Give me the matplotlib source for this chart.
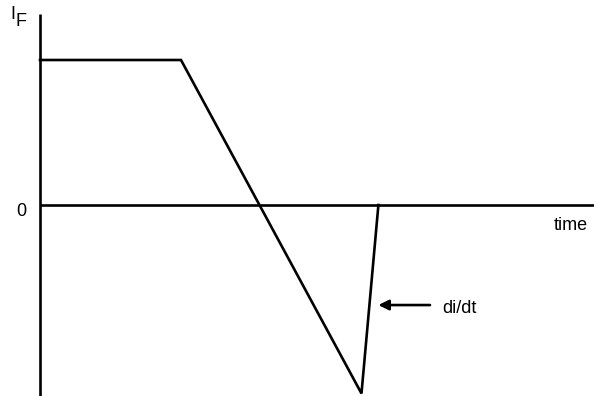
import matplotlib
matplotlib.use("Agg")
import matplotlib.pyplot as plt

plt.rcParams["font.family"] = ["Liberation Sans", "DejaVu Sans"]

# waveform corners (time in plateau-lengths, current in units of I_F)
time = [0.0, 1.0, 2.28, 2.40]
current = [1.0, 1.0, -1.30, 0.0]

# axes extents
t_max = 3.93
i_top, i_bottom = 1.32, -1.32

# di/dt marker
arrow_y = -0.69
arrow_tip, arrow_tail = 2.40, 2.766

fig = plt.figure(figsize=(5.94, 3.96), dpi=100)
ax = fig.add_axes([0, 0, 1, 1])
ax.set_xlim(-40 / 141, 554 / 141)
ax.set_ylim(-191 / 145, 205 / 145)
ax.axis("off")

lw = 1.9
ax.plot([0, 0], [i_bottom, i_top], color="black", lw=lw, solid_capstyle="butt")
ax.plot([0, t_max], [0, 0], color="black", lw=lw, solid_capstyle="butt")
ax.plot(time, current, color="black", lw=lw, solid_joinstyle="miter")

ax.annotate("", xy=(arrow_tip, arrow_y), xytext=(arrow_tail, arrow_y),
            arrowprops=dict(arrowstyle="-|>", color="black", lw=lw,
                            mutation_scale=15, shrinkA=0, shrinkB=0))

fs = 13
ax.text(2.851, -0.745, "di/dt", fontsize=fs, ha="left", va="baseline")
ax.text(3.887, -0.172, "time", fontsize=fs, ha="right", va="baseline")
ax.text(-0.099, -0.075, "0", fontsize=fs, ha="right", va="baseline")
ax.text(-0.207, 1.283, "I", fontsize=fs, ha="left", va="baseline")
ax.text(-0.172, 1.234, "F", fontsize=fs, ha="left", va="baseline")

fig.savefig("out.png", dpi=100)
